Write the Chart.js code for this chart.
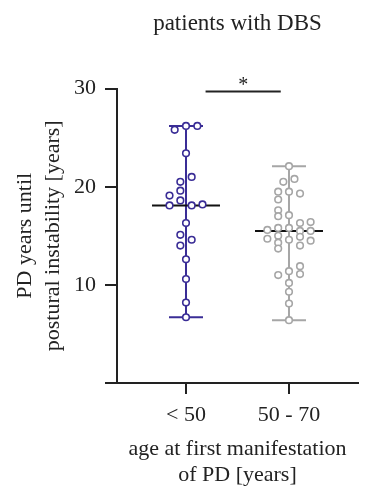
<!DOCTYPE html>
<html>
<head>
<meta charset="utf-8">
<script src="https://cdn.jsdelivr.net/npm/chart.js@4"></script>
<style>
  html, body { margin: 0; padding: 0; background: #fff; }
  #wrap { width: 372px; height: 500px; }
</style>
</head>
<body>
<div id="wrap"><canvas id="dbs-chart"></canvas></div>
<script>
var groupLabels = ['< 50', '50 - 70'];

// years until postural instability, age at onset < 50
var youngValues = [26.2, 25.8, 26.2, 23.4, 21.0, 20.5, 19.6, 19.1, 18.6, 18.1,
                   18.1, 18.2, 16.3, 15.1, 14.6, 14.0, 12.6, 10.6, 8.2, 6.7];
var youngJitter = [0, -0.11, 0.11, 0, 0.055, -0.055, -0.055, -0.16, -0.055, -0.16,
                   0.055, 0.16, 0, -0.055, 0.055, -0.055, 0, 0, 0, 0];

// age at onset 50 - 70
var olderValues = [22.1, 20.5, 20.8, 19.5, 19.5, 19.3, 18.7, 17.6, 17.0, 17.1,
                   16.3, 16.4, 15.6, 15.8, 15.8, 15.5, 15.5, 14.7, 15.0, 14.3,
                   13.7, 14.6, 14.9, 14.0, 14.5, 11.0, 11.4, 11.9, 11.1, 10.2,
                   9.3, 8.1, 6.4];
var olderJitter = [0, -0.055, 0.053, -0.105, 0, 0.107, -0.105, -0.105, -0.105, 0,
                   0.107, 0.21, -0.21, -0.105, 0, 0.107, 0.21, -0.21, -0.105, -0.105,
                   -0.105, 0, 0.107, 0.107, 0.21, -0.105, 0, 0.107, 0.107, 0,
                   0, 0, 0];

var medians = [18.1, 15.5];
var minVals = [6.7, 6.4];
var maxVals = [26.2, 22.1];
var sigBar = [1.19, 1.92];
var sigLevel = 29.7;

var colors = ['#3a2d96', '#a6a6a6'];
var serif = "'Liberation Serif', 'DejaVu Serif', serif";

function points(vals, jit, pos) {
    var out = [];
    for (var i = 0; i < vals.length; i++) {
        out.push({x: pos + jit[i], y: vals[i]});
    }
    return out;
}

function hline(pos, half, y) {
    return [{x: pos - half, y: y}, {x: pos + half, y: y}];
}

var datasets = [];
var groups = [[youngValues, youngJitter], [olderValues, olderJitter]];

for (var g = 0; g < 2; g++) {
    var pos = g + 1;
    datasets.push({
        type: 'scatter',
        data: points(groups[g][0], groups[g][1], pos),
        pointRadius: 3.3,
        pointBorderWidth: 1.6,
        pointBorderColor: colors[g],
        pointBackgroundColor: '#fff',
        order: 1
    });
    datasets.push({
        type: 'line',
        data: hline(pos, 0.33, medians[g]),
        borderColor: '#111',
        borderWidth: 2,
        pointRadius: 0,
        order: 2
    });
    datasets.push({
        type: 'line',
        data: [{x: pos, y: minVals[g]}, {x: pos, y: maxVals[g]}],
        borderColor: colors[g],
        borderWidth: 2,
        pointRadius: 0,
        order: 3
    });
    datasets.push({
        type: 'line',
        data: hline(pos, 0.165, minVals[g]),
        borderColor: colors[g],
        borderWidth: 2,
        pointRadius: 0,
        order: 3
    });
    datasets.push({
        type: 'line',
        data: hline(pos, 0.165, maxVals[g]),
        borderColor: colors[g],
        borderWidth: 2,
        pointRadius: 0,
        order: 3
    });
}

datasets.push({
    type: 'line',
    data: [{x: sigBar[0], y: sigLevel}, {x: sigBar[1], y: sigLevel}],
    borderColor: '#222',
    borderWidth: 2,
    pointRadius: 0,
    order: 4
});

var starPlugin = {
    id: 'star',
    afterDatasetsDraw: function(chart) {
        var ctx = chart.ctx;
        var xs = chart.scales.x, ys = chart.scales.y;
        var cx = xs.getPixelForValue((sigBar[0] + sigBar[1]) / 2);
        var cy = ys.getPixelForValue(sigLevel);
        ctx.save();
        ctx.fillStyle = '#222';
        ctx.font = '20px ' + serif;
        ctx.textAlign = 'center';
        ctx.textBaseline = 'middle';
        ctx.fillText('*', cx, cy - 6);
        ctx.restore();
    }
};

new Chart(document.getElementById('dbs-chart'), {
    type: 'scatter',
    data: {datasets: datasets},
    plugins: [starPlugin],
    options: {
        responsive: true,
        maintainAspectRatio: false,
        animation: false,
        layout: {padding: {left: 11, right: 14, top: 0, bottom: 10}},
        plugins: {
            legend: {display: false},
            tooltip: {enabled: false},
            title: {
                display: true,
                text: 'patients with DBS',
                fullSize: false,
                color: '#222',
                font: {family: serif, size: 23, weight: 'normal'},
                padding: {top: 10, bottom: 51}
            }
        },
        scales: {
            x: {
                type: 'linear',
                min: 0.33,
                max: 2.67,
                afterBuildTicks: function(scale) {
                    scale.ticks = [{value: 1}, {value: 2}];
                },
                afterFit: function(scale) { scale.height = 107; },
                ticks: {
                    color: '#222',
                    font: {family: serif, size: 22},
                    padding: 8,
                    callback: function(v) { return groupLabels[Math.round(v) - 1]; }
                },
                grid: {drawOnChartArea: false, drawTicks: true, tickLength: 11, color: '#222', lineWidth: 2},
                border: {display: true, color: '#222', width: 2},
                title: {
                    display: true,
                    text: ['age at first manifestation', 'of PD [years]'],
                    color: '#222',
                    font: {family: serif, size: 22, lineHeight: 1.18},
                    padding: {top: 0, bottom: 2}
                }
            },
            y: {
                min: 0,
                max: 30,
                afterFit: function(scale) { scale.width = 106; },
                ticks: {
                    stepSize: 10,
                    color: '#222',
                    font: {family: serif, size: 22},
                    padding: 9,
                    callback: function(v) { return v === 0 ? '' : v; }
                },
                grid: {drawOnChartArea: false, drawTicks: true, tickLength: 12, color: '#222', lineWidth: 2},
                border: {display: true, color: '#222', width: 2},
                title: {
                    display: true,
                    text: ['PD years until', 'postural instability [years]'],
                    color: '#222',
                    font: {family: serif, size: 22, lineHeight: 1.27},
                    padding: {top: 0, bottom: 0}
                }
            }
        }
    }
});
</script>
</body>
</html>
